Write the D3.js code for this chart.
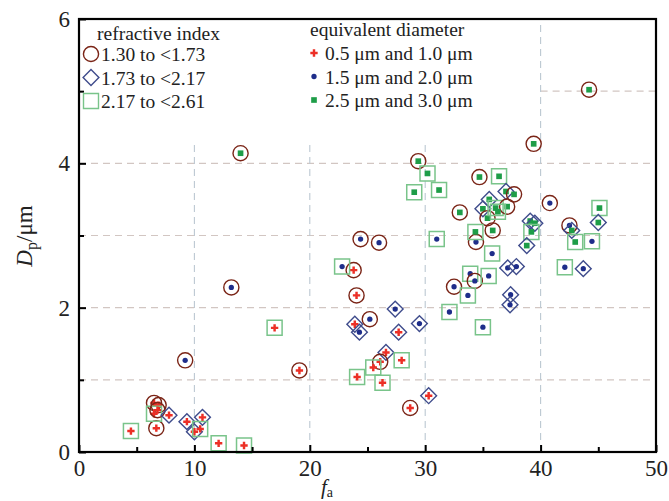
<!DOCTYPE html>
<html><head><meta charset="utf-8">
<script src="https://cdn.jsdelivr.net/npm/d3@7"></script>
</head>
<body style="margin:0;background:#fff">
<svg id="chart" width="669" height="501" style="display:block"></svg>
<script>
// ---- data ----
const riLabels = ["1.30 to <1.73", "1.73 to <2.17", "2.17 to <2.61"];
const sizeLabels = ["0.5 μm and 1.0 μm", "1.5 μm and 2.0 μm", "2.5 μm and 3.0 μm"];
const xTicks = [0, 10, 20, 30, 40, 50];
const yTicks = [0, 2, 4, 6];

// 0.5 / 1.0 um (red plus); ri: 0 circle, 1 diamond, 2 square
const smallFa = [4.5, 6.7, 6.5, 6.9, 6.5, 6.8, 7.8, 9.35, 10.7, 10.0, 10.5, 12.1, 14.3, 16.95, 19.1, 23.8, 24.05, 23.9, 27.7, 26.6, 26.1, 25.5, 27.96, 24.1, 26.3, 30.3, 28.7];
const smallDp = [0.29, 0.33, 0.68, 0.65, 0.53, 0.58, 0.51, 0.42, 0.48, 0.28, 0.32, 0.12, 0.09, 1.72, 1.13, 2.52, 2.17, 1.77, 1.66, 1.38, 1.25, 1.17, 1.27, 1.04, 0.96, 0.78, 0.61];
const smallRi = [2, 0, 0, 0, 2, 0, 1, 1, 1, 1, 2, 2, 2, 2, 0, 0, 0, 1, 1, 1, 0, 2, 2, 2, 2, 1, 0];

// 1.5 / 2.0 um (blue dot)
const midFa = [9.2, 13.2, 24.4, 26.0, 31.0, 22.8, 32.5, 33.9, 34.3, 35.5, 33.7, 34.4, 35.8, 40.8, 42.5, 44.45, 42.1, 43.7, 37.15, 37.9, 37.4, 37.35, 32.1, 35.0, 27.4, 25.2, 24.3, 29.5];
const midDp = [1.27, 2.28, 2.95, 2.9, 2.95, 2.57, 2.29, 2.47, 2.37, 2.44, 2.17, 2.91, 2.75, 3.45, 3.14, 2.92, 2.56, 2.54, 2.55, 2.57, 2.18, 2.04, 1.94, 1.73, 1.98, 1.84, 1.66, 1.78];
const midRi = [0, 0, 0, 0, 2, 2, 0, 2, 0, 2, 2, 0, 2, 0, 0, 2, 2, 1, 1, 1, 1, 1, 2, 2, 1, 0, 1, 1];

// 2.5 / 3.0 um (green square)
const largeFa = [14.0, 29.4, 30.2, 29.05, 31.2, 34.7, 36.4, 33.0, 35.55, 35.0, 35.4, 36.1, 35.85, 34.35, 37.0, 37.7, 37.1, 36.3, 44.2, 39.4, 39.1, 39.5, 39.2, 38.8, 42.7, 43.0, 45.1, 45.0];
const largeDp = [4.14, 4.03, 3.86, 3.6, 3.63, 3.81, 3.82, 3.32, 3.5, 3.37, 3.24, 3.38, 3.07, 3.05, 3.61, 3.57, 3.4, 3.33, 5.02, 4.27, 3.2, 3.17, 3.05, 2.86, 3.07, 2.91, 3.38, 3.18];
const largeRi = [0, 0, 2, 2, 2, 0, 2, 0, 1, 1, 0, 2, 0, 2, 1, 0, 0, 2, 0, 0, 1, 1, 2, 1, 1, 2, 2, 1];

// ---- build ----
const FONT = '"Liberation Serif", "Times New Roman"';
const groups = [
  {fa: smallFa, dp: smallDp, ri: smallRi, kind: 0},
  {fa: midFa, dp: midDp, ri: midRi, kind: 1},
  {fa: largeFa, dp: largeDp, ri: largeRi, kind: 2}
];
const points = [];
groups.forEach(g => g.fa.forEach((v, i) => points.push({fa: v, dp: g.dp[i], ri: g.ri[i], kind: g.kind})));

const W = 669, H = 501;
const m = {left: 79, right: 13, top: 19, bottom: 49};
const svg = d3.select("#chart");
const x = d3.scaleLinear().domain([0, 50]).range([m.left, W - m.right]);
const y = d3.scaleLinear().domain([0, 6]).range([H - m.bottom, m.top]);

const outerColors = ["#7a2416", "#3f4c8c", "#79c48a"];
const innerColors = ["#ec2f26", "#1e2d8a", "#1e9d48"];

// grid
const grid = svg.append("g");
[1, 2, 3, 4].forEach(v => grid.append("line")
  .attr("x1", x(0)).attr("x2", x(50)).attr("y1", y(v)).attr("y2", y(v))
  .attr("stroke", "#d2c6c2").attr("stroke-width", 1.1).attr("stroke-dasharray", "7,5"));
grid.append("line").attr("x1", x(40)).attr("x2", x(50)).attr("y1", y(5)).attr("y2", y(5))
  .attr("stroke", "#d2c6c2").attr("stroke-width", 1.1).attr("stroke-dasharray", "7,5");
[10, 20, 30].forEach(v => grid.append("line")
  .attr("x1", x(v)).attr("x2", x(v)).attr("y1", y(0)).attr("y2", y(4.3))
  .attr("stroke", "#bcc8d2").attr("stroke-width", 1.1).attr("stroke-dasharray", "7,5"));
grid.append("line").attr("x1", x(40)).attr("x2", x(40)).attr("y1", y(0)).attr("y2", y(5.92))
  .attr("stroke", "#bcc8d2").attr("stroke-width", 1.1).attr("stroke-dasharray", "7,5");

// markers
const outerSym = [d3.symbol().type(d3.symbolCircle).size(180),
                  d3.symbol().type(d3.symbolSquare).size(125),
                  d3.symbol().type(d3.symbolSquare).size(225)];
const innerSym = [d3.symbol().type(d3.symbolCross).size(30),
                  d3.symbol().type(d3.symbolCircle).size(22),
                  d3.symbol().type(d3.symbolSquare).size(32)];

const mk = svg.append("g").selectAll("g").data(points).join("g")
  .attr("transform", d => `translate(${x(d.fa)},${y(d.dp)})`);
mk.append("path")
  .attr("d", d => outerSym[d.ri]())
  .attr("transform", d => d.ri === 1 ? "rotate(45)" : null)
  .attr("fill", "none")
  .attr("stroke", d => outerColors[d.ri])
  .attr("stroke-width", d => d.ri === 2 ? 1.5 : 1.4);
mk.append("path")
  .attr("d", d => innerSym[d.kind]())
  .attr("fill", d => innerColors[d.kind]);

// axes
svg.append("g").attr("transform", `translate(0,${y(0)})`)
  .call(d3.axisBottom(x).tickValues(xTicks).tickFormat(d3.format("d")).tickSizeInner(-7).tickSizeOuter(0).tickPadding(8));
svg.append("g").attr("transform", `translate(0,${y(0)})`)
  .call(d3.axisBottom(x).tickValues([5, 15, 25, 35, 45]).tickSizeInner(-5).tickSizeOuter(0).tickFormat(""));
svg.append("g").attr("transform", `translate(${x(0)},0)`)
  .call(d3.axisLeft(y).tickValues(yTicks).tickFormat(d3.format("d")).tickSizeInner(-7).tickSizeOuter(0).tickPadding(9));
svg.append("g").attr("transform", `translate(${x(0)},0)`)
  .call(d3.axisLeft(y).tickValues([1, 3, 5]).tickSizeInner(-5).tickSizeOuter(0).tickFormat(""));
svg.selectAll(".domain").remove();
svg.selectAll(".tick line").attr("stroke", "#000").attr("stroke-width", 2);
svg.selectAll("g").attr("font-family", FONT).style("font-family", FONT);
svg.selectAll(".tick text").attr("font-size", 23).attr("fill", "#222")
  .attr("font-family", FONT).style("font-family", FONT);

// frame
svg.append("rect").attr("x", x(0)).attr("y", y(6)).attr("width", x(50) - x(0)).attr("height", y(0) - y(6))
  .attr("fill", "none").attr("stroke", "#000").attr("stroke-width", 2.2);

// helper for serif text
function addText(parent, xx, yy, size, str) {
  return parent.append("text").attr("x", xx).attr("y", yy)
    .attr("font-size", size).attr("fill", "#222")
    .attr("font-family", FONT).style("font-family", FONT).text(str);
}

// legend
const leg = svg.append("g");
addText(leg, 97, 40, 19.5, "refractive index");
riLabels.forEach((t, i) => {
  const cy = 54 + i * 23.5;
  leg.append("path").attr("d", outerSym[i]())
    .attr("transform", `translate(91,${cy})` + (i === 1 ? " rotate(45)" : ""))
    .attr("fill", "none").attr("stroke", outerColors[i]).attr("stroke-width", 1.4);
  addText(leg, 101, cy + 7, 19.5, t);
});
addText(leg, 310, 36, 19.5, "equivalent diameter");
sizeLabels.forEach((t, i) => {
  const cy = 53 + i * 23.5;
  leg.append("path").attr("d", innerSym[i]())
    .attr("transform", `translate(314,${cy})`)
    .attr("fill", innerColors[i]);
  addText(leg, 325, cy + 7, 19.5, t);
});

// axis titles
const xt = addText(svg, 327, 494, 21, null).attr("text-anchor", "middle");
xt.append("tspan").attr("font-style", "italic").text("f");
xt.append("tspan").attr("font-size", 14).attr("dy", 3).text("a");

const yt = addText(svg, 0, 0, 23, null).attr("transform", "translate(32,236) rotate(-90)").attr("text-anchor", "middle");
yt.append("tspan").attr("font-style", "italic").text("D");
yt.append("tspan").attr("font-size", 16).attr("dy", 5).text("p");
yt.append("tspan").attr("dy", -5).text("/μm");
</script>
</body></html>
